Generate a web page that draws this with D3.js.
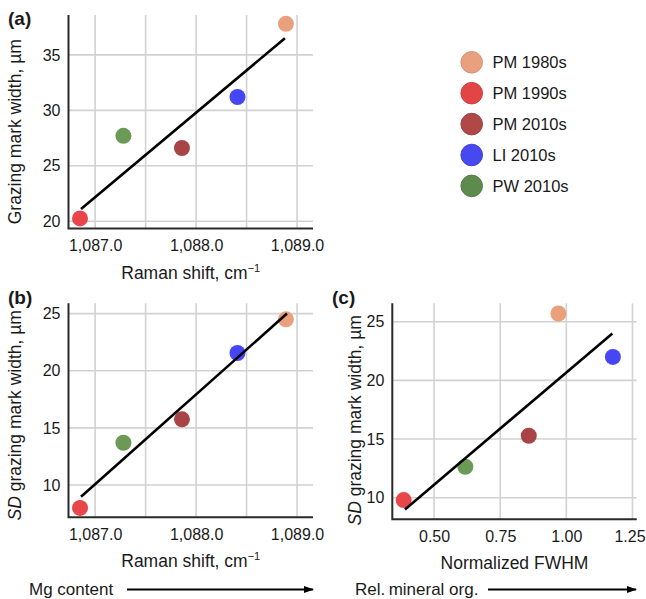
<!DOCTYPE html>
<html>
<head>
<meta charset="utf-8">
<script src="https://cdn.jsdelivr.net/npm/d3@7"></script>
<style>
  html, body { margin: 0; padding: 0; background: #fff; }
  svg { display: block; }
  text { font-family: "Liberation Sans", Arial, Helvetica, sans-serif; fill: #1a1a1a; }
</style>
</head>
<body>
<svg id="chart" width="646" height="599"></svg>
<script>
// ---------- data ----------
const categories = ["PM 1980s", "PM 1990s", "PM 2010s", "LI 2010s", "PW 2010s"];
const colors = ["#E9A07C", "#E8464A", "#A84446", "#4646F4", "#6A9A56"];
const legendColors = ["#E8A07E", "#E34446", "#B04848", "#4848F0", "#5F8A4E"];

const ramanShift = [1088.89, 1086.85, 1087.86, 1088.41, 1087.28];
const widthA = [37.8, 20.25, 26.6, 31.2, 27.7];
const sdWidthB = [24.5, 8.0, 15.75, 21.55, 13.7];
const fwhmC = [0.97, 0.385, 0.858, 1.176, 0.618];
const sdWidthC = [25.7, 9.8, 15.28, 22.0, 12.64];

const fitA = [[1086.86, 21.1], [1088.88, 36.5]];
const fitB = [[1086.86, 8.98], [1088.9, 25.0]];
const fitC = [[0.39, 9.0], [1.174, 24.0]];

const ramanTicks = [1087, 1087.5, 1088, 1088.5, 1089];
const ramanTickLabels = ["1,087.0", "", "1,088.0", "", "1,089.0"];
const yTicksA = [20, 25, 30, 35];
const yTicksB = [10, 15, 20, 25];
const xTicksC = [0.5, 0.75, 1.0, 1.25];
const xTickLabelsC = ["0.50", "0.75", "1.00", "1.25"];
const yTicksC = [10, 15, 20, 25];

// ---------- drawing ----------
const svg = d3.select("#chart");
const FONT_TICK = 16;
const FONT_TITLE = 17.5;

function panel(opts) {
  const { box, xDomain, yDomain, xTicks, xTickLabels, yTicks, xs, ys, fit, label, xTitle, yTitle, yItalic } = opts;
  const x = d3.scaleLinear().domain(xDomain).range([box.left, box.right]);
  const y = d3.scaleLinear().domain(yDomain).range([box.bottom, box.top]);
  const g = svg.append("g");

  // grid
  const grid = g.append("g").attr("stroke", "#d2d2d2").attr("stroke-width", 1.6);
  grid.selectAll("line.v").data(xTicks).join("line")
    .attr("x1", d => x(d)).attr("x2", d => x(d))
    .attr("y1", box.top).attr("y2", box.bottom);
  grid.selectAll("line.h").data(yTicks).join("line")
    .attr("x1", box.left).attr("x2", box.right)
    .attr("y1", d => y(d)).attr("y2", d => y(d));

  // axes (labels via d3 axis)
  const xAxis = d3.axisBottom(x).tickValues(xTicks).tickSize(0).tickPadding(11)
    .tickFormat((d, i) => xTickLabels[i]);
  const gx = g.append("g").attr("transform", `translate(0,${box.bottom})`).call(xAxis);
  gx.select(".domain").remove();
  gx.selectAll("text").attr("font-size", FONT_TICK).attr("fill", "#1a1a1a")
    .attr("font-family", "Liberation Sans, Arial, sans-serif");
  if (opts.lastTickDx) {
    gx.selectAll("text").filter((d, i, n) => i === n.length - 1).attr("dx", opts.lastTickDx);
  }

  const yAxis = d3.axisLeft(y).tickValues(yTicks).tickSize(0).tickPadding(8);
  const gy = g.append("g").attr("transform", `translate(${box.left},0)`).call(yAxis);
  gy.select(".domain").remove();
  gy.selectAll("text").attr("font-size", FONT_TICK).attr("fill", "#1a1a1a")
    .attr("font-family", "Liberation Sans, Arial, sans-serif");

  g.append("path")
    .attr("d", `M${box.left},${box.top}V${box.bottom}H${box.right}`)
    .attr("fill", "none").attr("stroke", "#2a2a2a").attr("stroke-width", 2);

  // points
  g.append("g").selectAll("circle").data(xs.map((v, i) => ({ x: v, y: ys[i], i })))
    .join("circle")
    .attr("cx", d => x(d.x)).attr("cy", d => y(d.y)).attr("r", 8)
    .attr("fill", d => colors[d.i]);

  // fit line
  g.append("path")
    .attr("d", d3.line().x(d => x(d[0])).y(d => y(d[1]))(fit))
    .attr("fill", "none").attr("stroke", "#000").attr("stroke-width", 2.6);

  // panel label
  g.append("text").attr("x", label.x).attr("y", label.y)
    .attr("font-size", 19).attr("font-weight", "bold").text(label.t);

  // x title
  const xt = g.append("text")
    .attr("x", (box.left + box.right) / 2 + (opts.xTitleDx || 0))
    .attr("y", box.bottom + 50)
    .attr("text-anchor", "middle").attr("font-size", FONT_TITLE);
  xt.append("tspan").text(xTitle.main);
  if (xTitle.sup) {
    xt.append("tspan").attr("font-size", 11).attr("dy", -7).text(xTitle.sup);
  }

  // y title
  const yt = g.append("text")
    .attr("transform", `translate(${opts.yTitleX},${(box.top + box.bottom) / 2 + (opts.yTitleDy || 0)}) rotate(-90)`)
    .attr("text-anchor", "middle").attr("font-size", FONT_TITLE);
  if (yItalic) {
    yt.append("tspan").attr("font-style", "italic").text(yItalic);
    yt.append("tspan").text(" " + yTitle);
  } else {
    yt.append("tspan").text(yTitle);
  }
}

panel({
  box: { left: 68.5, right: 313, top: 15, bottom: 228.5 },
  xDomain: [1086.736, 1089.158], yDomain: [19.34, 38.6],
  xTicks: ramanTicks, xTickLabels: ramanTickLabels, yTicks: yTicksA,
  xs: ramanShift, ys: widthA, fit: fitA,
  label: { x: 8, y: 25, t: "(a)" },
  xTitle: { main: "Raman shift, cm", sup: "\u22121" }, xTitleDx: 0,
  yTitle: "Grazing mark width, \u00b5m", yTitleX: 21, yTitleDy: 10
});

panel({
  box: { left: 68.5, right: 313, top: 303.3, bottom: 517.3 },
  xDomain: [1086.736, 1089.158], yDomain: [7.18, 25.9],
  xTicks: ramanTicks, xTickLabels: ramanTickLabels, yTicks: yTicksB,
  xs: ramanShift, ys: sdWidthB, fit: fitB,
  label: { x: 8, y: 304, t: "(b)" },
  xTitle: { main: "Raman shift, cm", sup: "\u22121" },
  yTitle: "grazing mark width, \u00b5m", yItalic: "SD", yTitleX: 21, yTitleDy: 5
});

panel({
  box: { left: 392.3, right: 636.7, top: 303.3, bottom: 519.3 },
  xDomain: [0.342, 1.266], yDomain: [8.16, 26.57],
  xTicks: xTicksC, xTickLabels: xTickLabelsC, yTicks: yTicksC,
  xs: fwhmC, ys: sdWidthC, fit: fitC,
  label: { x: 332, y: 304, t: "(c)" },
  xTitle: { main: "Normalized FWHM" }, lastTickDx: -3,
  yTitle: "grazing mark width, \u00b5m", yItalic: "SD", yTitleX: 361, yTitleDy: 9
});

// legend
const lg = svg.append("g");
categories.forEach((c, i) => {
  const cy = 62.3 + i * 30.9;
  lg.append("circle").attr("cx", 471.7).attr("cy", cy).attr("r", 10.8)
    .attr("fill", legendColors[i]).attr("stroke", d3.color(legendColors[i]).darker(0.25)).attr("stroke-width", 1);
  lg.append("text").attr("x", 492.5).attr("y", cy + 6).attr("font-size", 16.5).text(c);
});

// bottom arrows
const defs = svg.append("defs");
defs.append("marker").attr("id", "arr").attr("viewBox", "0 0 10 10")
  .attr("refX", 9).attr("refY", 5).attr("markerWidth", 5).attr("markerHeight", 5)
  .attr("markerUnits", "strokeWidth").attr("orient", "auto")
  .append("path").attr("d", "M0,1.5L10,5L0,8.5Z").attr("fill", "#000");

svg.append("text").attr("x", 29).attr("y", 595).attr("font-size", 17).text("Mg content");
svg.append("line").attr("x1", 127).attr("x2", 313).attr("y1", 589.5).attr("y2", 589.5)
  .attr("stroke", "#000").attr("stroke-width", 2).attr("marker-end", "url(#arr)");

svg.append("text").attr("x", 355).attr("y", 595).attr("font-size", 17).text("Rel.\u2009mineral org.");
svg.append("line").attr("x1", 488).attr("x2", 636).attr("y1", 589.5).attr("y2", 589.5)
  .attr("stroke", "#000").attr("stroke-width", 2).attr("marker-end", "url(#arr)");
</script>
</body>
</html>
